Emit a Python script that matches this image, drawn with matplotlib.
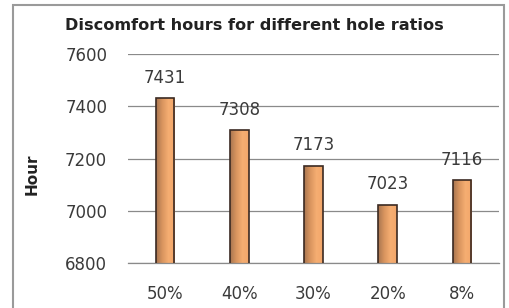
import numpy as np
import matplotlib
matplotlib.use("Agg")
import matplotlib.pyplot as plt
from matplotlib.patches import Rectangle
from matplotlib.colors import LinearSegmentedColormap

categories = ["50%", "40%", "30%", "20%", "8%"]
hours = [7431, 7308, 7173, 7023, 7116]
yticks = [6800, 7000, 7200, 7400, 7600]

W, H = 509, 308
fig = plt.figure(figsize=(W / 100, H / 100), dpi=100)
fig.patch.set_facecolor("white")
ax = fig.add_axes([128 / W, 1 - 263 / H, (499 - 128) / W, (263 - 54) / H])

txt = "#3a3a3a"
grid = "#8a8a8a"

x = np.arange(len(categories))
bars = ax.bar(x, hours, width=0.25, bottom=0, color="none",
              edgecolor="#3b2a22", linewidth=1.2, zorder=3)

# horizontal gradient inside each bar
cmap = LinearSegmentedColormap.from_list("bar", ["#a87550", "#d9955f", "#f6ae72", "#f2a66a"])
grad = np.linspace(0, 1, 100).reshape(1, -1)
for b in bars:
    x0, w = b.get_x(), b.get_width()
    im = ax.imshow(grad, extent=[x0, x0 + w, 6800, b.get_height()],
                   aspect="auto", cmap=cmap, zorder=2, origin="lower")
    im.set_clip_path(b)

for xi, v in zip(x, hours):
    ax.text(xi, v + 78, str(v), ha="center", va="center",
            fontsize=12, color=txt, zorder=4)

ax.set_xlim(-0.5, len(categories) - 0.5)
ax.set_ylim(6800, 7600)
ax.set_yticks(yticks)
ax.set_xticks(x)
ax.set_xticklabels(categories)
ax.tick_params(axis="both", length=0, labelsize=12, colors=txt)
ax.tick_params(axis="y", pad=15)
ax.tick_params(axis="x", pad=16)
ax.yaxis.grid(True, color=grid, linewidth=0.9, zorder=1)
ax.set_axisbelow(True)
for s in ["left", "right", "top"]:
    ax.spines[s].set_visible(False)
ax.spines["bottom"].set_color(grid)
ax.spines["bottom"].set_linewidth(0.9)

fig.text(254 / W, 1 - 25 / H, "Discomfort hours for different hole ratios",
         ha="center", va="center", fontsize=11.6, fontweight="bold", color="#222222")
fig.text(32 / W, 1 - 174 / H, "Hour", rotation=90, ha="center", va="center",
         fontsize=11, fontweight="bold", color="#222222")

# outer chart border
border = Rectangle((13 / W, -0.1), (504 - 13) / W, 1.1 - 5 / H,
                   transform=fig.transFigure, fill=False,
                   edgecolor="#9a9a9a", linewidth=1.5)
fig.add_artist(border)

fig.savefig("out.png", dpi=100)
